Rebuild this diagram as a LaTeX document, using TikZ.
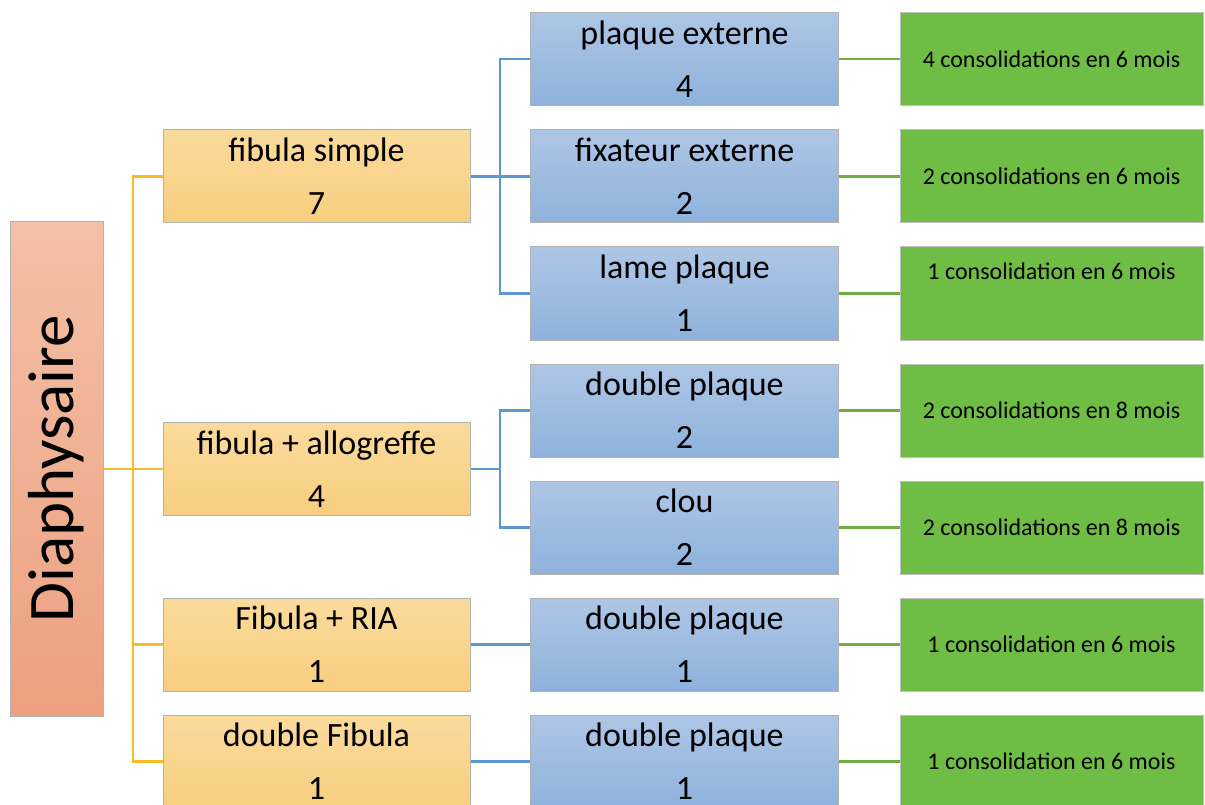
\documentclass[tikz,border=0pt]{standalone}
\usepackage{fontspec}
\setmainfont{Carlito}
\usepackage{tikz}
\definecolor{ylinec}{RGB}{245,188,40}
\definecolor{blinec}{RGB}{91,151,208}
\definecolor{glinec}{RGB}{112,173,71}
\definecolor{greenf}{RGB}{112,189,70}

\begin{document}
\begin{tikzpicture}[x=1pt,y=-1pt,
	box/.style={draw=black!30,line width=1pt,inner sep=2pt,align=center,
		font=\fontsize{34}{53}\selectfont},
	diabox/.style={box,minimum width=93pt,minimum height=494pt,
		top color={rgb,255:red,243;green,192;blue,167},bottom color={rgb,255:red,237;green,160;blue,128}},
	yellowbox/.style={box,minimum width=307pt,minimum height=93pt,
		top color={rgb,255:red,250;green,219;blue,157},bottom color={rgb,255:red,247;green,206;blue,126}},
	bluebox/.style={box,minimum width=308pt,minimum height=93pt,
		top color={rgb,255:red,174;green,198;blue,229},bottom color={rgb,255:red,142;green,178;blue,220}},
	greenbox/.style={draw=black!25,line width=1pt,fill=greenf,minimum width=303pt,minimum height=93pt,
		font=\fontsize{24}{28}\selectfont},
	yline/.style={draw=ylinec,line width=2.2pt},
	bline/.style={draw=blinec,line width=2.2pt},
	gline/.style={draw=glinec,line width=2.2pt}]
\useasboundingbox (0,0) rectangle (1205,805);
% colonne de gauche
\node[diabox] (diaph) at (56.5,469) {\fontsize{65}{70}\selectfont\rotatebox{90}{Diaphysaire}};
% fibulas
\node[yellowbox] (fsimple) at (316.5,176.5) {fibula simple\\7};
\node[yellowbox] (fallo) at (316.5,469) {fibula + allogreffe\\4};
\node[yellowbox] (fria) at (316.5,644.5) {Fibula + RIA\\1};
\node[yellowbox] (fdouble) at (316.5,761.5) {double Fibula\\1};
% fixations
\node[bluebox] (pext) at (684.5,59) {plaque externe\\4};
\node[bluebox] (fext) at (684.5,176.5) {fixateur externe\\2};
\node[bluebox] (lame) at (684.5,293.5) {lame plaque\\1};
\node[bluebox] (dpa) at (684.5,410.5) {double plaque\\2};
\node[bluebox] (clou) at (684.5,527.5) {clou\\2};
\node[bluebox] (dpb) at (684.5,644.5) {double plaque\\1};
\node[bluebox] (dpc) at (684.5,761.5) {double plaque\\1};
% consolidations
\node[greenbox] (cpext) at (1051.5,59) {4 consolidations en 6 mois};
\node[greenbox] (cfext) at (1051.5,176.5) {2 consolidations en 6 mois};
\node[greenbox,text depth=45pt] (clame) at (1051.5,293.5) {1 consolidation en 6 mois};
\node[greenbox] (cdpa) at (1051.5,410.5) {2 consolidations en 8 mois};
\node[greenbox] (cclou) at (1051.5,527.5) {2 consolidations en 8 mois};
\node[greenbox] (cdpb) at (1051.5,644.5) {1 consolidation en 6 mois};
\node[greenbox] (cdpc) at (1051.5,761.5) {1 consolidation en 6 mois};
% liaisons
\coordinate (ytrunk) at (133,469);
\coordinate (btrunka) at (500,176.5);
\coordinate (btrunkb) at (500,469);
\draw[yline] (diaph.east) -- (ytrunk);
\foreach \n in {fsimple,fallo,fria,fdouble}{
	\draw[yline] (ytrunk) |- (\n.west);}
\draw[bline] (fsimple.east) -- (btrunka);
\foreach \n in {pext,fext,lame}{
	\draw[bline] (btrunka) |- (\n.west);}
\draw[bline] (fallo.east) -- (btrunkb);
\foreach \n in {dpa,clou}{
	\draw[bline] (btrunkb) |- (\n.west);}
\draw[bline] (fria.east) -- (dpb.west);
\draw[bline] (fdouble.east) -- (dpc.west);
\draw[gline] (pext.east) -- (cpext.west);
\draw[gline] (fext.east) -- (cfext.west);
\draw[gline] (lame.east) -- (clame.west);
\draw[gline] (dpa.east) -- (cdpa.west);
\draw[gline] (clou.east) -- (cclou.west);
\draw[gline] (dpb.east) -- (cdpb.west);
\draw[gline] (dpc.east) -- (cdpc.west);
\end{tikzpicture}
\end{document}
